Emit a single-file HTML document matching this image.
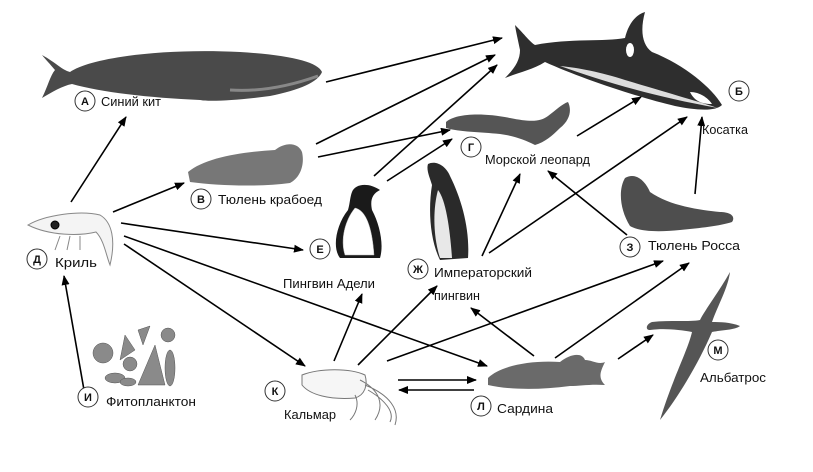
<!DOCTYPE html>
<html><head><meta charset="utf-8"><style>
html,body{margin:0;padding:0;background:#fff;}
svg{display:block;}
text{font-family:"Liberation Sans Narrow","Liberation Sans",sans-serif;font-size:13px;fill:#111;}
.c{font-size:11px;font-weight:bold;text-anchor:middle;}
</style></head><body>
<svg width="813" height="472" viewBox="0 0 813 472" xmlns="http://www.w3.org/2000/svg">
<defs>
<marker id="a" markerWidth="10" markerHeight="8" refX="9" refY="4" orient="auto" markerUnits="userSpaceOnUse">
<path d="M0,0 L10,4 L0,8 z" fill="#000"/></marker>
</defs>
<rect width="813" height="472" fill="#fff"/>
<!-- Blue whale -->
<path d="M42,55 C55,62 62,70 70,72 C90,58 160,48 240,52 C290,55 318,62 322,72 C318,82 300,90 270,96 C240,100 210,102 200,100 C150,98 100,92 72,84 C62,86 52,92 42,98 C48,86 50,76 55,70 C50,64 46,60 42,55 Z" fill="#4a4a4a"/>
<path d="M230,90 C260,92 290,86 318,76" stroke="#888" stroke-width="3" fill="none"/>
<!-- Orca -->
<path d="M515,25 C525,35 530,42 535,45 C570,38 605,42 625,38 C628,25 635,15 645,12 C640,30 642,45 652,52 C685,65 712,88 722,105 C715,112 695,110 675,106 C640,98 580,78 545,62 C532,70 520,72 505,78 C515,68 520,60 520,50 C518,40 516,32 515,25 Z" fill="#2e2e2e"/>
<path d="M560,66 C600,80 650,96 718,108 C700,102 665,92 625,80 C600,72 580,68 560,66 Z" fill="#ddd"/>
<ellipse cx="630" cy="50" rx="4" ry="7" fill="#fff"/>
<path d="M690,92 C700,92 708,98 712,104 C700,104 694,100 690,92 Z" fill="#fff"/>
<!-- Leopard seal -->
<path d="M446,122 C455,114 480,112 510,118 C530,122 540,122 548,116 C556,110 562,104 568,102 C572,110 570,120 560,128 C552,136 545,142 535,145 C525,140 515,136 500,134 C480,132 460,132 446,128 Z" fill="#555"/>
<!-- Crabeater seal -->
<path d="M188,172 C205,158 240,152 275,150 C285,142 298,142 302,152 C305,165 300,178 290,183 C260,187 220,186 190,182 Z" fill="#777"/>
<!-- Adelie penguin -->
<path d="M352,192 C355,184 368,182 380,190 C372,194 370,200 372,210 C380,225 384,245 380,258 L340,258 C332,248 336,225 348,210 C350,203 350,197 352,192 Z" fill="#1a1a1a"/>
<path d="M345,255 C340,240 345,220 355,208 C365,210 372,225 374,255 Z" fill="#fff" stroke="#bbb" stroke-width="0.5"/>
<!-- Emperor penguin -->
<path d="M428,164 C436,160 446,166 450,176 C462,200 470,230 468,258 L440,260 C430,240 428,210 432,185 C430,178 426,170 428,164 Z" fill="#2a2a2a"/>
<path d="M440,258 C434,240 432,212 438,190 C446,200 450,230 452,258 Z" fill="#e8e8e8"/>
<!-- Ross seal -->
<path d="M625,178 C635,172 645,180 650,192 C670,206 700,210 720,212 C730,212 736,216 732,222 C720,226 700,228 680,230 C660,232 640,232 630,226 C620,210 618,190 625,178 Z" fill="#4e4e4e"/>
<!-- Krill -->
<g stroke="#888" stroke-width="1" fill="#f4f4f4">
<path d="M28,225 C45,215 80,210 100,215 C112,222 116,240 110,265 C106,255 104,240 96,232 C80,236 50,236 28,225 Z"/>
<circle cx="55" cy="225" r="4" fill="#222" stroke="#000"/>
<path d="M60,236 L55,250 M70,236 L67,250 M80,236 L80,250" fill="none"/>
</g>
<!-- Phytoplankton -->
<g fill="#8a8a8a" stroke="#555" stroke-width="0.5">
<circle cx="103" cy="353" r="10"/>
<circle cx="130" cy="364" r="7"/>
<circle cx="168" cy="335" r="7"/>
<polygon points="138,330 150,326 143,345"/>
<polygon points="125,335 135,350 120,360"/>
<polygon points="155,345 165,385 138,385"/>
<ellipse cx="170" cy="368" rx="5" ry="18"/>
<ellipse cx="115" cy="378" rx="10" ry="5"/>
<ellipse cx="128" cy="382" rx="8" ry="4"/>
</g>
<!-- Squid -->
<g stroke="#777" stroke-width="1" fill="#f6f6f6">
<path d="M302,375 C320,368 350,368 365,375 C368,385 365,395 355,398 C330,400 310,395 302,385 Z"/>
<path d="M360,380 C380,390 385,405 375,420 M365,385 C390,395 400,410 395,425 M368,390 C385,400 395,412 390,422 M355,395 C360,405 355,415 350,420" fill="none"/>
</g>
<!-- Sardine -->
<path d="M488,378 C500,366 530,360 560,362 C570,354 582,352 585,360 C592,360 598,365 605,362 C600,372 598,378 605,385 C590,384 580,386 570,386 C540,390 510,390 488,385 Z" fill="#6a6a6a"/>
<!-- Albatross -->
<path d="M730,272 C720,290 705,310 700,320 C690,322 670,320 652,322 C646,324 645,330 650,330 C665,328 680,330 692,332 C688,350 672,380 660,420 C680,395 700,360 712,332 C722,330 735,330 740,326 C730,322 720,322 712,322 C718,305 728,288 730,272 Z" fill="#555"/>
<!-- Arrows -->
<g stroke="#000" stroke-width="1.6" fill="none" marker-end="url(#a)">
<line x1="326" y1="82" x2="502" y2="38"/>
<line x1="71" y1="202" x2="126" y2="117"/>
<line x1="113" y1="212" x2="184" y2="183"/>
<line x1="121" y1="223" x2="303" y2="250"/>
<line x1="124" y1="236" x2="487" y2="366"/>
<line x1="124" y1="244" x2="305" y2="366"/>
<line x1="84" y1="390" x2="64" y2="276"/>
<line x1="316" y1="144" x2="495" y2="55"/>
<line x1="318" y1="157" x2="450" y2="130"/>
<line x1="374" y1="176" x2="497" y2="65"/>
<line x1="387" y1="181" x2="452" y2="139"/>
<line x1="482" y1="256" x2="520" y2="174"/>
<line x1="489" y1="253" x2="687" y2="117"/>
<line x1="577" y1="136" x2="641" y2="97"/>
<line x1="627" y1="235" x2="548" y2="171"/>
<line x1="695" y1="194" x2="702" y2="117"/>
<line x1="334" y1="361" x2="362" y2="294"/>
<line x1="358" y1="365" x2="437" y2="286"/>
<line x1="387" y1="361" x2="663" y2="261"/>
<line x1="398" y1="380" x2="476" y2="380"/>
<line x1="474" y1="390" x2="399" y2="390"/>
<line x1="534" y1="356" x2="471" y2="308"/>
<line x1="555" y1="358" x2="689" y2="263"/>
<line x1="618" y1="359" x2="653" y2="335"/>
</g>
<!-- Label circles -->
<g fill="#fff" stroke="#333" stroke-width="1">
<circle cx="85" cy="101" r="10"/><circle cx="739" cy="91" r="10"/>
<circle cx="471" cy="147" r="10"/><circle cx="201" cy="199" r="10"/>
<circle cx="320" cy="249" r="10"/><circle cx="418" cy="269" r="10"/>
<circle cx="37" cy="259" r="10"/><circle cx="630" cy="247" r="10"/>
<circle cx="718" cy="350" r="10"/><circle cx="88" cy="397" r="10"/>
<circle cx="275" cy="391" r="10"/><circle cx="481" cy="406" r="10"/>
</g>
<text class="c" x="85" y="105">А</text><text class="c" x="739" y="95">Б</text>
<text class="c" x="471" y="151">Г</text><text class="c" x="201" y="203">В</text>
<text class="c" x="320" y="253">Е</text><text class="c" x="418" y="273">Ж</text>
<text class="c" x="37" y="263">Д</text><text class="c" x="630" y="251">З</text>
<text class="c" x="718" y="354">М</text><text class="c" x="88" y="401">И</text>
<text class="c" x="275" y="395">К</text><text class="c" x="481" y="410">Л</text>
<text x="101" y="106" textLength="60" lengthAdjust="spacingAndGlyphs">Синий кит</text>
<text x="702" y="134" textLength="46" lengthAdjust="spacingAndGlyphs">Косатка</text>
<text x="485" y="164" textLength="105" lengthAdjust="spacingAndGlyphs">Морской леопард</text>
<text x="218" y="204" textLength="104" lengthAdjust="spacingAndGlyphs">Тюлень крабоед</text>
<text x="283" y="288" textLength="92" lengthAdjust="spacingAndGlyphs">Пингвин Адели</text>
<text x="434" y="277" textLength="98" lengthAdjust="spacingAndGlyphs">Императорский</text>
<text x="434" y="300" textLength="46" lengthAdjust="spacingAndGlyphs">пингвин</text>
<text x="55" y="267" textLength="42" lengthAdjust="spacingAndGlyphs">Криль</text>
<text x="648" y="250" textLength="92" lengthAdjust="spacingAndGlyphs">Тюлень Росса</text>
<text x="700" y="382" textLength="66" lengthAdjust="spacingAndGlyphs">Альбатрос</text>
<text x="106" y="406" textLength="90" lengthAdjust="spacingAndGlyphs">Фитопланктон</text>
<text x="284" y="419" textLength="52" lengthAdjust="spacingAndGlyphs">Кальмар</text>
<text x="497" y="413" textLength="56" lengthAdjust="spacingAndGlyphs">Сардина</text>
</svg>
</body></html>
